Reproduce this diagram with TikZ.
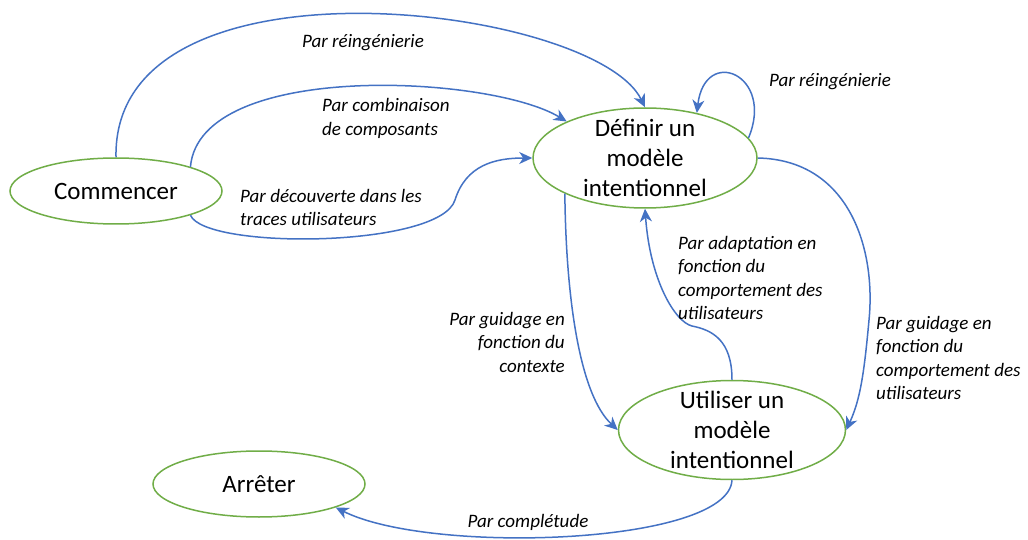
\documentclass[tikz,border=0pt]{standalone}
\usepackage{fontspec}
\setmainfont{Carlito}
\usetikzlibrary{shapes.geometric,arrows.meta}
\definecolor{edgeblue}{HTML}{4472C4}
\definecolor{nodegreen}{HTML}{70AD47}
\begin{document}
\begin{tikzpicture}[x=1pt,y=-1pt,
  state/.style={ellipse,draw=nodegreen,line width=1.5pt,inner sep=0pt},
  statetext/.style={inner sep=0pt,align=center,font=\fontsize{25}{30}\selectfont},
  trans/.style={draw=edgeblue,line width=1.5pt,-{Stealth[length=13pt,width=12pt,inset=4pt]}},
  lbl/.style={inner sep=0pt,font=\fontsize{19}{23.5}\selectfont\itshape}]
\fill[white] (0,0) rectangle (1028,540);
\useasboundingbox (0,0) rectangle (1028,540);
% states
\node[state,minimum width=212pt,minimum height=66pt,label={[statetext]center:Commencer}] (com) at (116,191) {};
\node[state,minimum width=224pt,minimum height=100pt,label={[statetext]center:Définir un\\modèle\\intentionnel}] (def) at (645,158) {};
\node[state,minimum width=227pt,minimum height=99pt,label={[statetext]center:Utiliser un\\modèle\\intentionnel}] (utl) at (732,430) {};
\node[state,minimum width=212pt,minimum height=66pt,label={[statetext]center:Arrêter}] (arr) at (259,484) {};
% transitions
\draw[trans] (com.north) .. controls (112,-55) and (595,5) .. (def.north);
\draw[trans] (com.18) .. controls (200,60) and (490,75) .. (def.155);
\draw[trans] (com.-18) .. controls (205,250) and (440,248) .. (455,200) .. controls (466,165) and (495,158) .. (def.west);
\draw[trans] (def.11) .. controls (775,75) and (705,45) .. (def.41);
\draw[trans] (def.204) .. controls (566,300) and (580,395) .. (utl.west);
\draw[trans] (utl.north) .. controls (732,340) and (712,330) .. (692,326) .. controls (675,322) and (650,280) .. (def.south);
\draw[trans] (def.east) .. controls (850,160) and (876,250) .. (869,320) .. controls (864,375) and (860,400) .. (utl.east);
\draw[trans] (utl.south) .. controls (728,545) and (430,555) .. (arr.-17);
% labels
\node[lbl] (l1) at (363,43) {Par réingénierie};
\node[lbl,align=left,anchor=west] (l2) at (322,118.5) {Par combinaison\\de composants};
\node[lbl,align=left,anchor=west] (l3) at (240,207.5) {Par découverte dans les\\traces utilisateurs};
\node[lbl] (l4) at (830,82) {Par réingénierie};
\node[lbl,align=right,anchor=east] (l5) at (565,342) {Par guidage en\\fonction du\\contexte};
\node[lbl,align=left,anchor=west] (l6) at (678,278) {Par adaptation en\\fonction du\\comportement des\\utilisateurs};
\node[lbl,align=left,anchor=west] (l7) at (876,358) {Par guidage en\\fonction du\\comportement des\\utilisateurs};
\node[lbl] (l8) at (528,522) {Par complétude};
\end{tikzpicture}
\end{document}
